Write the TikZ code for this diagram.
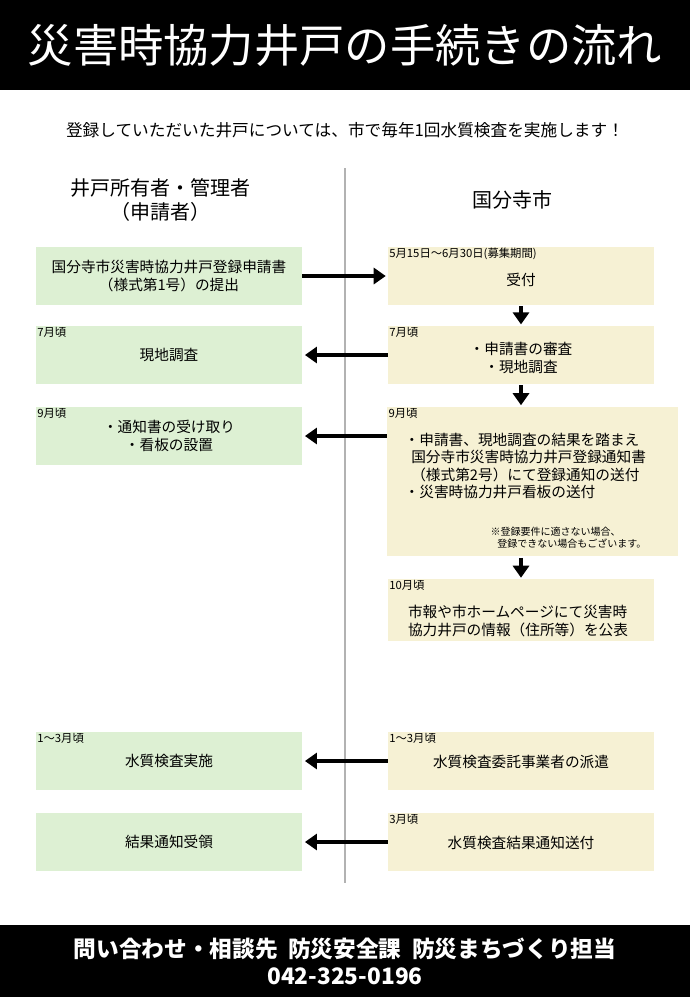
\documentclass[tikz,border=0pt]{standalone}
\usepackage{fontspec}
\setmainfont{Noto Sans CJK JP}
\usetikzlibrary{positioning}
\usetikzlibrary{arrows.meta}
\definecolor{appgreen}{HTML}{DDF0D3}
\definecolor{cityyellow}{HTML}{F6F1D4}
\newcommand{\pxfont}[1]{\fontsize{#1}{1.2\dimexpr#1\relax}\selectfont}

\begin{document}
\begin{tikzpicture}[%
  >={Triangle[length=9pt,width=12pt]},
  x=0.75pt, y=-0.75pt,
  box/.style={inner sep=0pt, minimum width=199.5pt, minimum height=43.5pt},
  lbox/.style={box, fill=appgreen},
  rbox/.style={box, fill=cityyellow},
  body/.style={font=\pxfont{11pt}, align=center},
  when/.style={font=\pxfont{8.5pt}, anchor=north west, inner sep=1pt},
  flow/.style={->, line width=3.5pt},
]

  \useasboundingbox (0,0) rectangle (690,997);
  \fill[black] (0,0) rectangle (690,90);
  \fill[black] (0,925) rectangle (690,997);
  \node[text=white, font=\pxfont{34pt}] (title) at (345,45) {災害時協力井戸の手続きの流れ};
  \node[font=\pxfont{12.5pt}] (lead) at (345,130) {登録していただいた井戸については、市で毎年1回水質検査を実施します！};

  \draw[gray!60, line width=2pt] (345,168) -- (345,883);
  \node[font=\pxfont{15pt}, align=center] (owner) at (160,200) {井戸所有者・管理者\\（申請者）};
  \node[font=\pxfont{15pt}] (city) at (512,200) {国分寺市};

  % applicant side
  \node[lbox] (l1) at (169,276) {};
  \node[body] at (l1) {国分寺市災害時協力井戸登録申請書\\（様式第1号）の提出};
  \node[lbox] (l2) at (169,355) {};
  \node[body] at (l2) {現地調査};
  \node[lbox] (l3) at (169,436) {};
  \node[body] at (l3) {・通知書の受け取り\\・看板の設置};
  \node[lbox] (l4) at (169,761) {};
  \node[body] at (l4) {水質検査実施};
  \node[lbox] (l5) at (169,842) {};
  \node[body] at (l5) {結果通知受領};
  \node[when] at (l2.north west) {7月頃};
  \node[when] at (l3.north west) {9月頃};
  \node[when] at (l4.north west) {1～3月頃};

  % city side
  \node[rbox] (r1) at (521,276) {};
  \node[when] at (r1.north west) {5月15日～6月30日(募集期間)};
  \node[body] at (521,280) {受付};
  \node[rbox] (r2) at (521,355) {};
  \node[when] at (r2.north west) {7月頃};
  \node[body] at (521,358) {・申請書の審査\\・現地調査};
  \node[fill=cityyellow, inner sep=0pt, minimum width=218pt, minimum height=112pt] (r3) at (532.5,481.5) {};
  \node[when] at (r3.north west) {9月頃};
  \node[body, align=left, anchor=north west] at (400,428) {・申請書、現地調査の結果を踏まえ\\\ \ 国分寺市災害時協力井戸登録通知書\\\ \ （様式第2号）にて登録通知の送付\\・災害時協力井戸看板の送付};
  \node[font=\pxfont{7.5pt}, align=left, anchor=north west] at (486,522) {※登録要件に適さない場合、\\\ \ \ 登録できない場合もございます。};
  \node[rbox, minimum height=46pt] (r4) at (521,610) {};
  \node[when] at (r4.north west) {10月頃};
  \node[body, align=left] at (518,621) {市報や市ホームページにて災害時\\協力井戸の情報（住所等）を公表};
  \node[rbox] (r5) at (521,761) {};
  \node[when] at (r5.north west) {1～3月頃};
  \node[body] at (521,762) {水質検査委託事業者の派遣};
  \node[rbox] (r6) at (521,842) {};
  \node[when] at (r6.north west) {3月頃};
  \node[body] at (521,843) {水質検査結果通知送付};

  \draw[flow] (l1.east) -- ([xshift=-1.5pt]r1.west);
  \foreach \a/\b in {r2/l2, r5/l4, r6/l5}
    \draw[flow] (\a.west) -- ([xshift=2pt]\b.east);
  \draw[flow] (r3.west |- l3) -- ([xshift=2pt]l3.east);
  \draw[flow, shorten <=1pt, shorten >=1pt] (r1) ++(0,29) coordinate (d1) -- (r2.north);
  \draw[flow, shorten <=1pt, shorten >=1pt] (r2) ++(0,29) coordinate (d2) -- (r2 |- r3.north);
  \draw[flow, shorten <=1pt, shorten >=1pt] (r2 |- r3.south) -- (r4.north);

  \node[text=white, font=\pxfont{17pt}\bfseries, align=center] (contact) at (345,961) {問い合わせ・相談先\ \ 防災安全課\ \ 防災まちづくり担当\\042-325-0196};

\end{tikzpicture}
\end{document}
